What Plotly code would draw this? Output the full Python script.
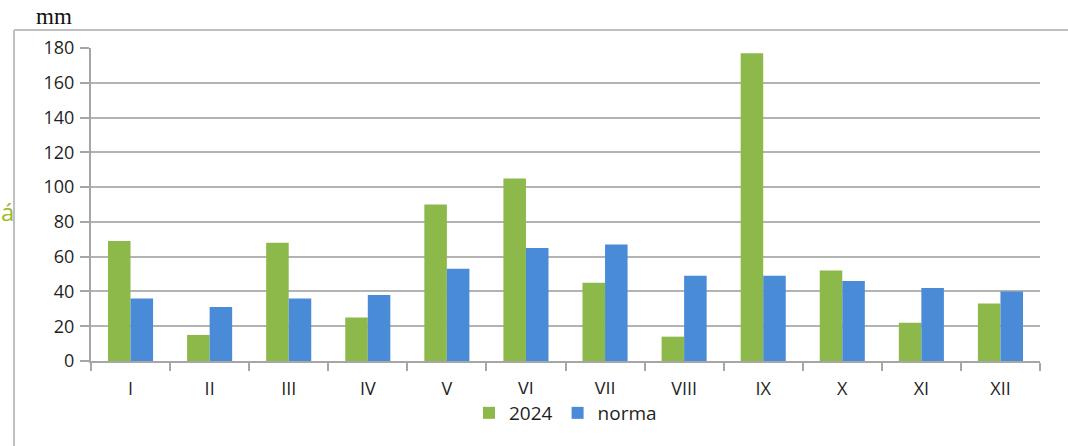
import plotly.graph_objects as go

months = ["I", "II", "III", "IV", "V", "VI", "VII", "VIII", "IX", "X", "XI", "XII"]
vals_2024 = [69, 15, 68, 25, 90, 105, 45, 14, 177, 52, 22, 33]
vals_norma = [36, 31, 36, 38, 53, 65, 67, 49, 49, 46, 42, 40]
y_ticks = [0, 20, 40, 60, 80, 100, 120, 140, 160, 180]

W, H = 1068, 446
L, R, T, B = 91, 28, 48, 85
pw, ph = W - L - R, H - T - B

def px(x):
    return (x - L) / pw

def py(y):
    return (H - B - y) / ph

fig = go.Figure()
fig.add_trace(go.Bar(x=months, y=vals_2024, name="2024", marker=dict(color="#8DB84A", line=dict(width=0))))
fig.add_trace(go.Bar(x=months, y=vals_norma, name="norma", marker=dict(color="#4A8BD8", line=dict(width=0))))

font = "'Open Sans', sans-serif"
txt = "#1f1f1f"
fig.update_layout(
    width=W, height=H,
    margin=dict(l=L, r=R, t=T, b=B),
    paper_bgcolor="white", plot_bgcolor="white",
    barmode="group", bargap=0.43, bargroupgap=0,
    font=dict(family=font, size=18, color=txt),
    legend=dict(orientation="h", x=0.5, xanchor="center", y=py(413), yanchor="middle",
                font=dict(size=19, color=txt), itemwidth=30, tracegroupgap=0),
    xaxis=dict(type="category", tickson="boundaries", ticks="outside", ticklen=8, tickwidth=2,
               tickcolor="#a6a6a6", showline=True, linecolor="#a6a6a6", linewidth=2,
               showgrid=False, ticklabelstandoff=10, tickfont=dict(family=font, size=18, color=txt)),
    yaxis=dict(range=[0, 180], tickvals=y_ticks, ticks="outside", ticklen=9, tickwidth=2,
               tickcolor="#a6a6a6", showline=True, linecolor="#a6a6a6", linewidth=2,
               showgrid=True, gridcolor="#b3b3b3", gridwidth=2, zeroline=False,
               ticklabelstandoff=2, tickfont=dict(family=font, size=18, color=txt)),
    shapes=[
        dict(type="line", xref="paper", yref="paper", x0=px(14), x1=px(W + 5), y0=py(30), y1=py(30),
             line=dict(color="#c0c0c0", width=2)),
        dict(type="line", xref="paper", yref="paper", x0=px(14), x1=px(14), y0=py(30), y1=py(H + 5),
             line=dict(color="#c0c0c0", width=2)),
    ],
    annotations=[
        dict(text="mm", xref="paper", yref="paper", x=px(34), y=py(17), xanchor="left", yanchor="middle",
             showarrow=False, font=dict(family="Liberation Serif, serif", size=23, color="#111111")),
        dict(text="á", xref="paper", yref="paper", x=px(-1), y=py(212), xanchor="left", yanchor="middle",
             showarrow=False, font=dict(family=font, size=24, color="#9ABA2E")),
    ],
)

fig.write_html("out.html", config={"displayModeBar": False},
               post_script="document.body.style.margin='0';document.body.style.overflow='hidden';")
